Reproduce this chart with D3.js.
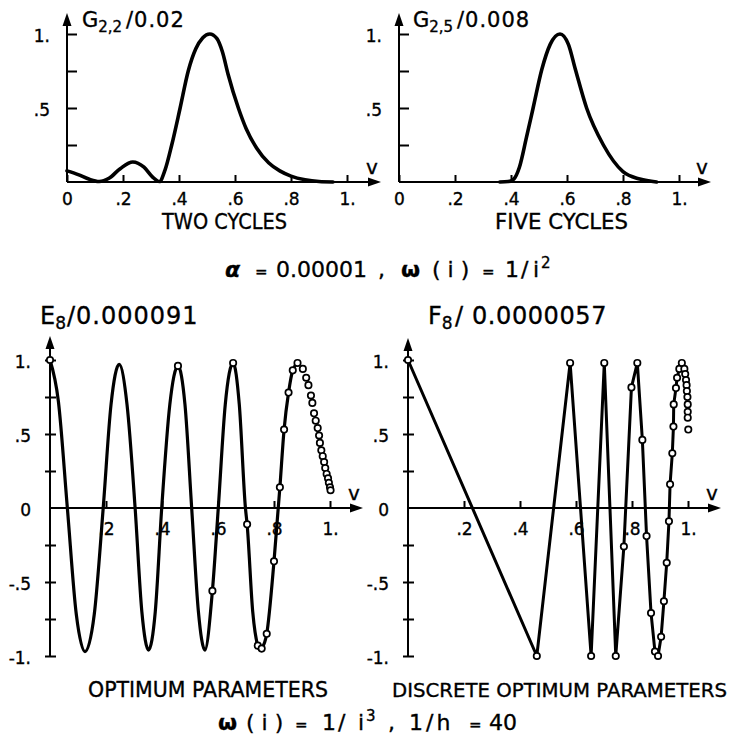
<!DOCTYPE html>
<html><head><meta charset="utf-8">
<script src="https://cdn.jsdelivr.net/npm/d3@7"></script>
<style>body{margin:0;background:#fff}svg{display:block}svg text{stroke:#000;stroke-width:0.35px}</style>
</head><body><svg id="c" width="739" height="743"></svg>
<script>
// ---------- data ----------
const vTicksTop = [0, 0.2, 0.4, 0.6, 0.8, 1.0];
const vTickLabelsTop = ["0", ".2", ".4", ".6", ".8", "1."];
const vTicksBottom = [0.2, 0.4, 0.6, 0.8, 1.0];
const vTickLabelsBottom = [".2", ".4", ".6", ".8", "1."];
const yTicksTop = [0.25, 0.5, 0.75, 1.0];
const yTickLabelsTop = ["", ".5", "", "1."];
const yTicksBottom = [-1, -0.75, -0.5, -0.25, 0, 0.25, 0.5, 0.75, 1];
const yTickLabelsBottom = ["-1.", "", "-.5", "", "0", "", ".5", "", "1."];

const G22 = [[0,0.075],[0.04,0.05],[0.08,0.018],[0.115,0.003],[0.15,0.025],[0.19,0.09],[0.235,0.135],
  [0.275,0.1],[0.305,0.035],[0.33,0.003],[0.35,0.08],[0.374,0.25],[0.404,0.5],[0.433,0.75],[0.46,0.9],
  [0.485,0.975],[0.51,1.0],[0.535,0.97],[0.555,0.88],[0.575,0.73],[0.612,0.5],[0.64,0.36],[0.677,0.23],
  [0.72,0.13],[0.76,0.075],[0.8,0.04],[0.85,0.015],[0.9,0.003],[0.95,0]];
const G25 = [[0.36,0],[0.39,0.003],[0.41,0.02],[0.43,0.1],[0.455,0.3],[0.479,0.5],[0.51,0.76],[0.54,0.93],
  [0.575,1.0],[0.605,0.93],[0.63,0.76],[0.67,0.5],[0.73,0.25],[0.8,0.07],[0.86,0.02],[0.92,0]];

const E8_curve = [[0,1],[0.03,0.72],[0.062,0],[0.094,-0.72],[0.125,-0.97],[0.158,-0.72],[0.19,0],
  [0.218,0.7],[0.247,0.97],[0.275,0.7],[0.304,0],[0.328,-0.7],[0.352,-0.96],[0.376,-0.7],[0.399,0],
  [0.428,0.7],[0.457,0.96],[0.482,0.7],[0.506,0],[0.53,-0.7],[0.553,-0.96],[0.58,-0.56],[0.601,0],
  [0.626,0.7],[0.654,0.98],[0.676,0.7],[0.698,0],[0.704,-0.11],[0.724,-0.7],[0.742,-0.93],[0.75,-0.96],
  [0.756,-0.95],[0.774,-0.85],[0.8,-0.36],[0.821,0.14],[0.836,0.53],[0.852,0.78],[0.867,0.93],[0.884,0.98]];
const E8_circles = [[0,1],[0.457,0.96],[0.58,-0.56],[0.654,0.98],[0.704,-0.11],[0.742,-0.93],[0.756,-0.95],
  [0.774,-0.85],[0.8,-0.36],[0.821,0.14],[0.836,0.53],[0.852,0.78],[0.867,0.93],[0.884,0.98],
  [0.903,0.94],[0.915,0.88],[0.923,0.83],[0.932,0.76],[0.937,0.71],[0.943,0.64],[0.949,0.59],[0.956,0.54],
  [0.961,0.49],[0.964,0.44],[0.969,0.39],[0.974,0.35],[0.979,0.31],[0.983,0.27],[0.988,0.23],[0.993,0.2],
  [0.996,0.17],[1.0,0.14],[1.002,0.12]];

const F8_line = [[0,1],[0.46,-1],[0.579,0.98],[0.654,-1],[0.701,0.98],[0.742,-1],[0.771,-0.26],[0.798,0.815],
  [0.819,0.98],[0.837,0.46],[0.852,-0.19],[0.868,-0.71],[0.882,-0.97],[0.893,-1.0],[0.904,-0.87],
  [0.914,-0.63],[0.924,-0.37],[0.932,-0.09],[0.936,0.16],[0.944,0.37],[0.948,0.55],[0.949,0.7],
  [0.957,0.81],[0.961,0.88],[0.969,0.94],[0.978,0.98]];
const F8_tail = [[0.987,0.94],[0.99,0.905],[0.993,0.865],[0.995,0.83],[0.996,0.79],[0.998,0.75],
  [0.999,0.7],[0.999,0.65],[0.999,0.61],[1.001,0.53]];

// ---------- drawing ----------
const FONT = "'DejaVu Sans', sans-serif";
const svg = d3.select("#c");

function arrowX(tip, yy){ return `M${tip},${yy}L${tip-13},${yy-4.5}L${tip-13},${yy+4.5}Z`; }
function arrowY(xx, tip){ return `M${xx},${tip}L${xx-4.5},${tip+13}L${xx+4.5},${tip+13}Z`; }

function panel(cfg){
  const x = d3.scaleLinear().domain([0,1]).range([cfg.x0, cfg.x0+280]);
  const y = d3.scaleLinear().domain(cfg.yDomain).range(cfg.yRange);
  const g = svg.append("g");
  const gx = g.append("g").attr("transform",`translate(0,${y(0)})`)
    .call(d3.axisBottom(x).tickValues(cfg.xTicks).tickFormat((d,i)=>cfg.xLabels[i])
      .tickSizeInner(-7).tickSizeOuter(0).tickPadding(cfg.xPad));
  gx.select(".domain").remove();
  gx.selectAll("line").attr("stroke","#000").attr("stroke-width",2);
  gx.selectAll("text").attr("font-family",FONT).attr("font-size",17).attr("fill","#000");
  const gy = g.append("g").attr("transform",`translate(${cfg.x0},0)`)
    .call(d3.axisLeft(y).tickValues(cfg.yTicks).tickFormat((d,i)=>cfg.yLabels[i])
      .tickSizeInner(cfg.yTickIn).tickSizeOuter(0).tickPadding(cfg.yPad));
  gy.select(".domain").remove();
  gy.selectAll("line").attr("stroke","#000").attr("stroke-width",2).attr("x1",cfg.yTickOut)
    .attr("stroke-opacity",(d)=> (d===0 ? 0 : 1));
  gy.selectAll("text").attr("font-family",FONT).attr("font-size",17).attr("fill","#000").attr("dy","0.45em");
  g.append("line").attr("x1",x(0)).attr("x2",cfg.xTip-4).attr("y1",y(0)).attr("y2",y(0))
    .attr("stroke","#000").attr("stroke-width",2);
  g.append("path").attr("d",arrowX(cfg.xTip,y(0))).attr("fill","#000");
  g.append("line").attr("x1",x(0)).attr("x2",x(0)).attr("y1",y(cfg.yDomain[0])).attr("y2",cfg.yTip+4)
    .attr("stroke","#000").attr("stroke-width",2);
  g.append("path").attr("d",arrowY(x(0),cfg.yTip)).attr("fill","#000");
  g.append("text").attr("x",cfg.xTip-15).attr("y",y(0)-8).attr("font-family",FONT)
    .attr("font-size",20).text("v");
  return {x,y,g};
}

const cfgTop = {yDomain:[0,1], yRange:[182,34], xTicks:vTicksTop, xLabels:vTickLabelsTop, xPad:11,
  yTicks:yTicksTop, yLabels:yTickLabelsTop, yTickIn:-10, yTickOut:0, yPad:17, yTip:13};
const cfgBot = {yDomain:[-1,1], yRange:[656,360], xTicks:vTicksBottom, xLabels:vTickLabelsBottom, xPad:15,
  yTicks:yTicksBottom, yLabels:yTickLabelsBottom, yTickIn:5, yTickOut:6, yPad:14, yTip:336};

const pTL = panel({...cfgTop, x0:67, xTip:381});
const pTR = panel({...cfgTop, x0:399, xTip:711});
const pBL = panel({...cfgBot, x0:50, xTip:363});
const pBR = panel({...cfgBot, x0:408, xTip:721, yTip:338});

function smooth(p, data, w, curve){
  p.g.append("path").datum(data)
    .attr("d", d3.line().x(d=>p.x(d[0])).y(d=>p.y(d[1])).curve(curve))
    .attr("fill","none").attr("stroke","#000").attr("stroke-width",w)
    .attr("stroke-linejoin","round").attr("stroke-linecap","round");
}
function circles(p, data){
  p.g.append("g").selectAll("circle").data(data).join("circle")
    .attr("cx",d=>p.x(d[0])).attr("cy",d=>p.y(d[1])).attr("r",3.2)
    .attr("fill","#fff").attr("stroke","#000").attr("stroke-width",1.7);
}

smooth(pTL, G22, 3.6, d3.curveMonotoneX);
smooth(pTR, G25, 3.6, d3.curveMonotoneX);
smooth(pBL, E8_curve, 3.2, d3.curveMonotoneX);
circles(pBL, E8_circles);
smooth(pBR, F8_line, 3, d3.curveLinear);
circles(pBR, F8_line.concat(F8_tail));

// ---------- texts ----------
function title(x, y, main, sub, rest, fs, subfs, restX, ls){
  const t = svg.append("text").attr("x",x).attr("y",y).attr("font-family",FONT).attr("font-size",fs);
  t.append("tspan").text(main);
  t.append("tspan").attr("dy",5).attr("font-size",subfs).text(sub);
  t.append("tspan").attr("dy",-5).attr("x",restX).attr("letter-spacing",ls).text(rest);
  return t;
}
title(82, 27, "G", "2,2", "/0.02", 21, 15, 126, 1);
title(413, 27, "G", "2,5", "/0.008", 21, 15, 457, 1);
title(40, 324, "E", "8", "/0.000091", 24, 17, 67, 1);
title(428, 324, "F", "8", "/ 0.0000057", 24, 17, 455, 0.6);

function caption(x, y, s, len, fs){
  svg.append("text").attr("x",x).attr("y",y).attr("font-family",FONT).attr("font-size",fs)
    .attr("textLength",len).attr("lengthAdjust","spacingAndGlyphs").text(s);
}
caption(162, 229, "TWO CYCLES", 125, 22);
caption(495, 229, "FIVE CYCLES", 133, 22);
caption(88, 697, "OPTIMUM PARAMETERS", 240, 21);
caption(392, 697, "DISCRETE OPTIMUM PARAMETERS", 335, 19.5);

// formula lines: pieces placed individually
function piece(t, x, s, opts={}){
  const sp = t.append("tspan").attr("x",x).text(s);
  if(opts.bold) sp.attr("font-weight","bold");
  if(opts.italic) sp.attr("font-style","italic");
  if(opts.small) sp.attr("font-size",15);
  if(opts.ls) sp.attr("letter-spacing",opts.ls);
  if(opts.sup){ sp.attr("font-size",15).attr("dy",-9); }
  if(opts.down){ sp.attr("dy",9); }
  return sp;
}
const m = svg.append("text").attr("y",277).attr("font-family",FONT).attr("font-size",22);
piece(m, 225, "α", {bold:true, italic:true});
piece(m, 255, "=", {small:true});
piece(m, 276, "0.00001");
piece(m, 378, ",");
piece(m, 401, "ω", {bold:true});
piece(m, 432, "( i )");
piece(m, 482, "=", {small:true});
piece(m, 505, "1/", {ls:2});
piece(m, 533, "i");
piece(m, 541, "2", {sup:true});

const b = svg.append("text").attr("y",730).attr("font-family",FONT).attr("font-size",22);
piece(b, 218, "ω", {bold:true});
piece(b, 246, "( i )");
piece(b, 295, "=", {small:true});
piece(b, 322, "1/", {ls:2});
piece(b, 358, "i");
piece(b, 366, "3", {sup:true});
piece(b, 388, ",", {down:true});
piece(b, 409, "1/h", {ls:3});
piece(b, 469, "=", {small:true});
piece(b, 489, "40");
</script></body></html>
